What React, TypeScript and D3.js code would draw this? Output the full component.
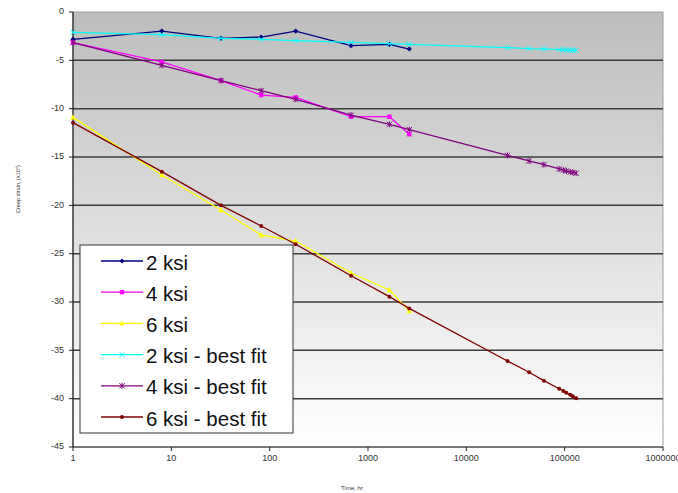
import React, { useEffect, useRef } from 'react';
import * as d3 from 'd3';

// measured times (hr) and best-fit times
const testTimes = [1, 8, 32, 82, 184, 673, 1650, 2630];
const fitTimes = [1, 8, 32, 82, 184, 673, 1650, 2630, 26200, 43500, 61400, 88000, 97000, 104000, 114000, 121000, 131000];

const ksi2 = [-2.83, -1.97, -2.72, -2.59, -1.97, -3.48, -3.34, -3.83];
const ksi4 = [-3.17, -5.17, -7.1, -8.59, -8.83, -10.83, -10.83, -12.65];
const ksi6 = [-10.9, -16.86, -20.48, -23.07, -23.69, -27.0, -28.76, -30.93];

const ksi2Fit = [-2.1, -2.34, -2.72, -2.83, -2.97, -3.14, -3.28, -3.34, -3.69, -3.79, -3.82, -3.9, -3.92, -3.93, -3.95, -3.96, -3.97];
const ksi4Fit = [-3.17, -5.52, -7.1, -8.14, -9.03, -10.66, -11.62, -12.17, -14.83, -15.41, -15.79, -16.24, -16.35, -16.45, -16.55, -16.6, -16.68];
const ksi6Fit = [-11.45, -16.52, -20.0, -22.14, -24.03, -27.28, -29.45, -30.66, -36.1, -37.27, -38.14, -38.97, -39.2, -39.4, -39.6, -39.75, -39.96];

const yTicks = [0, -5, -10, -15, -20, -25, -30, -35, -40, -45];
const xTicks = [1, 10, 100, 1000, 10000, 100000, 1000000];

const seriesList = [
  { name: '2 ksi', times: testTimes, values: ksi2, color: '#000080', marker: 'diamond' },
  { name: '4 ksi', times: testTimes, values: ksi4, color: '#ff00ff', marker: 'square' },
  { name: '6 ksi', times: testTimes, values: ksi6, color: '#ffff00', marker: 'triangle' },
  { name: '2 ksi - best fit', times: fitTimes, values: ksi2Fit, color: '#00ffff', marker: 'x' },
  { name: '4 ksi - best fit', times: fitTimes, values: ksi4Fit, color: '#800080', marker: 'star' },
  { name: '6 ksi - best fit', times: fitTimes, values: ksi6Fit, color: '#800000', marker: 'circle' }
];

function drawMarker(g: any, type: string, color: string) {
  if (type === 'diamond') {
    g.append('path').attr('d', 'M0,-2.6L2.6,0L0,2.6L-2.6,0Z').attr('fill', color);
  } else if (type === 'square') {
    g.append('rect').attr('x', -2.2).attr('y', -2.2).attr('width', 4.4).attr('height', 4.4).attr('fill', color);
  } else if (type === 'triangle') {
    g.append('path').attr('d', 'M0,-3L2.8,2.2L-2.8,2.2Z').attr('fill', color);
  } else if (type === 'x') {
    g.append('path').attr('d', 'M-2.6,-2.6L2.6,2.6M-2.6,2.6L2.6,-2.6').attr('stroke', color).attr('stroke-width', 1);
  } else if (type === 'star') {
    g.append('path').attr('d', 'M-2.6,-2.6L2.6,2.6M-2.6,2.6L2.6,-2.6M0,-3L0,3').attr('stroke', color).attr('stroke-width', 1);
  } else {
    g.append('circle').attr('r', 2).attr('fill', color);
  }
}

const App = () => {
  const svgRef = useRef<SVGSVGElement>(null);

  useEffect(() => {
    if (!svgRef.current) return;
    const svg = d3.select(svgRef.current);
    svg.selectAll('*').remove();

    const left = 73, right = 663, top = 12, bottom = 447;

    const x = d3.scaleLog().domain([1, 1000000]).range([left, right]);
    const y = d3.scaleLinear().domain([-45, 0]).range([bottom, top]);

    // plot background gradient
    const defs = svg.append('defs');
    const grad = defs.append('linearGradient')
      .attr('id', 'bg')
      .attr('x1', 0).attr('y1', 0).attr('x2', 0).attr('y2', 1);
    grad.append('stop').attr('offset', '0%').attr('stop-color', '#bdbdbd');
    grad.append('stop').attr('offset', '100%').attr('stop-color', '#ffffff');

    svg.append('rect')
      .attr('x', left).attr('y', top)
      .attr('width', right - left).attr('height', bottom - top)
      .attr('fill', 'url(#bg)')
      .attr('stroke', '#a0a0a0')
      .attr('stroke-width', 1);

    // gridlines
    svg.append('g')
      .selectAll('line')
      .data(yTicks.filter(t => t !== 0 && t !== -45))
      .enter()
      .append('line')
      .attr('x1', left).attr('x2', right)
      .attr('y1', d => y(d)).attr('y2', d => y(d))
      .attr('stroke', '#3c3c3c')
      .attr('stroke-width', 1.5);

    // y axis
    const yAxis = svg.append('g');
    yAxis.append('line')
      .attr('x1', left).attr('x2', left).attr('y1', top).attr('y2', bottom)
      .attr('stroke', '#222').attr('stroke-width', 1.2);
    yTicks.forEach(t => {
      yAxis.append('line')
        .attr('x1', left - 4).attr('x2', left).attr('y1', y(t)).attr('y2', y(t))
        .attr('stroke', '#222').attr('stroke-width', 1);
      yAxis.append('text')
        .attr('x', left - 9).attr('y', y(t))
        .attr('text-anchor', 'end')
        .attr('dominant-baseline', 'middle')
        .attr('font-family', 'Liberation Sans, Arial, sans-serif')
        .attr('font-size', '9px')
        .attr('fill', '#333')
        .text(t);
    });

    // x axis
    const xAxis = svg.append('g');
    xAxis.append('line')
      .attr('x1', left).attr('x2', right).attr('y1', bottom).attr('y2', bottom)
      .attr('stroke', '#222').attr('stroke-width', 1.2);
    xTicks.forEach(t => {
      xAxis.append('line')
        .attr('x1', x(t)).attr('x2', x(t)).attr('y1', bottom).attr('y2', bottom + 4)
        .attr('stroke', '#222').attr('stroke-width', 1);
      xAxis.append('text')
        .attr('x', x(t)).attr('y', bottom + 14)
        .attr('text-anchor', 'middle')
        .attr('font-family', 'Liberation Sans, Arial, sans-serif')
        .attr('font-size', '9px')
        .attr('fill', '#333')
        .text(t);
    });

    // axis titles
    svg.append('text')
      .attr('transform', `translate(20,189) rotate(-90)`)
      .attr('text-anchor', 'middle')
      .attr('font-family', 'Liberation Sans, Arial, sans-serif')
      .attr('font-size', '5.5px')
      .attr('fill', '#333')
      .text('Creep strain, (x10\u2074)');
    svg.append('text')
      .attr('x', 352).attr('y', 490)
      .attr('text-anchor', 'middle')
      .attr('font-family', 'Liberation Sans, Arial, sans-serif')
      .attr('font-size', '6px')
      .attr('fill', '#333')
      .text('Time, hr');

    // series
    const line = d3.line<[number, number]>()
      .x(d => x(d[0]))
      .y(d => y(d[1]));

    seriesList.forEach(s => {
      const pts: [number, number][] = s.times.map((t, i) => [t, s.values[i]]);
      svg.append('path')
        .attr('d', line(pts))
        .attr('fill', 'none')
        .attr('stroke', s.color)
        .attr('stroke-width', 1.3);
      pts.forEach(p => {
        const mg = svg.append('g').attr('transform', `translate(${x(p[0])},${y(p[1])})`);
        drawMarker(mg, s.marker, s.color);
      });
    });

    // legend
    const lg = svg.append('g');
    lg.append('rect')
      .attr('x', 80).attr('y', 245)
      .attr('width', 213).attr('height', 188)
      .attr('fill', '#fff')
      .attr('stroke', '#333')
      .attr('stroke-width', 1);
    seriesList.forEach((s, i) => {
      const ly = 261 + i * 31.2;
      lg.append('line')
        .attr('x1', 101).attr('x2', 143).attr('y1', ly).attr('y2', ly)
        .attr('stroke', s.color).attr('stroke-width', 1.3);
      const mg = lg.append('g').attr('transform', `translate(122,${ly})`);
      drawMarker(mg, s.marker, s.color);
      lg.append('text')
        .attr('x', 146).attr('y', ly + 1)
        .attr('dominant-baseline', 'central')
        .attr('font-family', 'Liberation Sans, Arial, sans-serif')
        .attr('font-size', '20.5px')
        .attr('fill', '#111')
        .text(s.name);
    });
  }, []);

  return (
    <svg
      ref={svgRef}
      width={678}
      height={493}
      style={{ position: 'absolute', left: 0, top: 0, background: '#fff' }}
    />
  );
};

export default App;
